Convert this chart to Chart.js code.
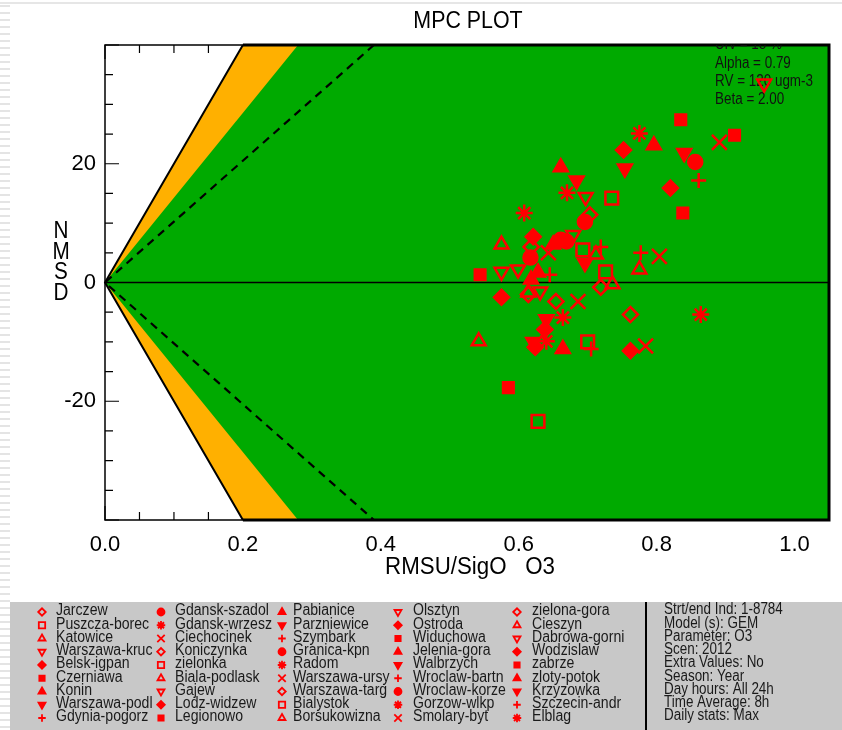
<!DOCTYPE html>
<html>
<head>
    <title>MPC PLOT</title>
    <script src="https://cdn.jsdelivr.net/npm/chart.js@4.4.1/dist/chart.umd.min.js"></script>
    <style>
        body {
            margin: 0;
            padding: 0;
            background-color: #ffffff;
        }
        #wrap {
            position: relative;
            width: 842px;
            height: 730px;
        }
        #edge {
            position: absolute;
            left: 0;
            top: 0;
            width: 10px;
            height: 730px;
            background: repeating-linear-gradient(to bottom, #ffffff 0px, #ffffff 5px, #e4e4e4 5px, #e4e4e4 7px);
        }
        #topline {
            position: absolute;
            left: 0;
            top: 2px;
            width: 842px;
            height: 2px;
            background-color: #e6e6e6;
        }
        canvas {
            position: absolute;
            left: 0;
            top: 0;
        }
    </style>
</head>
<body>
<div id="wrap">
    <div id="edge"></div>
    <div id="topline"></div>
    <canvas id="mpc" width="842" height="730"></canvas>
</div>

<script>
    // ---- data: [RMSU/SigO, NMSD] ----
    const openDiamondPts = [[0.703, 11.4], [0.618, 6.0], [0.719, -0.8], [0.614, -2.0], [0.654, -3.2], [0.762, -5.4]];
    const openSquarePts = [[0.735, 14.2], [0.693, 5.5], [0.726, 1.8], [0.700, -10.0], [0.628, -23.4]];
    const openTriUpPts = [[0.575, 6.4], [0.712, 4.7], [0.775, 2.2], [0.736, -0.3], [0.614, -1.7], [0.542, -9.9]];
    const openTriDownPts = [[0.956, 33.5], [0.697, 14.4], [0.679, 8.0], [0.575, 1.8], [0.599, 2.2], [0.631, -1.5]];
    const diamondPts = [[0.752, 22.3], [0.820, 15.9], [0.621, 7.7], [0.575, -2.5], [0.638, -7.9], [0.624, -10.9], [0.762, -11.5]];
    const squarePts = [[0.835, 27.4], [0.913, 24.8], [0.838, 11.7], [0.544, 1.3], [0.585, -17.7]];
    const triUpPts = [[0.796, 23.1], [0.661, 19.4], [0.650, 6.4], [0.628, 1.7], [0.618, 0.5], [0.664, -11.2]];
    const triDownPts = [[0.754, 19.2], [0.840, 21.8], [0.684, 17.2], [0.696, 3.3], [0.640, -6.2], [0.621, -10.0]];
    const plusPts = [[0.861, 17.2], [0.719, 6.0], [0.777, 5.0], [0.645, 1.3], [0.705, -11.2]];
    const circlePts = [[0.856, 20.3], [0.696, 10.2], [0.661, 7.2], [0.669, 6.9], [0.617, 4.2]];
    const asteriskPts = [[0.775, 25.1], [0.670, 15.1], [0.608, 11.7], [0.664, -5.9], [0.640, -9.9], [0.864, -5.4]];
    const crossPts = [[0.891, 23.6], [0.643, 5.0], [0.804, 4.4], [0.686, -3.2], [0.784, -10.7]];

    const stationNames = [
        'Jarczew', 'Puszcza-borec', 'Katowice', 'Warszawa-kruc', 'Belsk-igpan', 'Czerniawa', 'Konin', 'Warszawa-podl', 'Gdynia-pogorz',
        'Gdansk-szadol', 'Gdansk-wrzesz', 'Ciechocinek', 'Koniczynka', 'zielonka', 'Biala-podlask', 'Gajew', 'Lodz-widzew', 'Legionowo',
        'Pabianice', 'Parzniewice', 'Szymbark', 'Granica-kpn', 'Radom', 'Warszawa-ursy', 'Warszawa-targ', 'Bialystok', 'Borsukowizna',
        'Olsztyn', 'Ostroda', 'Widuchowa', 'Jelenia-gora', 'Walbrzych', 'Wroclaw-bartn', 'Wroclaw-korze', 'Gorzow-wlkp', 'Smolary-byt',
        'zielona-gora', 'Cieszyn', 'Dabrowa-gorni', 'Wodzislaw', 'zabrze', 'zloty-potok', 'Krzyzowka', 'Szczecin-andr', 'Elblag'
    ];
    const stationSymbols = [
        'openDiamond', 'openSquare', 'openTriUp', 'openTriDown', 'diamond', 'square', 'triUp', 'triDown', 'plus',
        'circle', 'asterisk', 'cross', 'openDiamond', 'openSquare', 'openTriUp', 'openTriDown', 'diamond', 'square',
        'triUp', 'triDown', 'plus', 'circle', 'asterisk', 'cross', 'openDiamond', 'openSquare', 'openTriUp',
        'openTriDown', 'diamond', 'square', 'triUp', 'triDown', 'plus', 'circle', 'asterisk', 'cross',
        'openDiamond', 'openTriUp', 'openTriDown', 'diamond', 'square', 'triUp', 'triDown', 'plus', 'asterisk'
    ];

    const infoLines = ['Strt/end Ind: 1-8784', 'Model (s): GEM', 'Parameter: O3', 'Scen: 2012', 'Extra Values: No',
        'Season: Year', 'Day hours: All 24h', 'Time Average: 8h', 'Daily stats: Max'];
    const paramLines = ['Urv = 18 %', 'Alpha = 0.79', 'RV = 120 ugm-3', 'Beta = 2.00'];

    const xTicks = [0, 0.2, 0.4, 0.6, 0.8, 1.0];
    const yTicks = [-20, 0, 20];

    // diagram boundaries (x reached at NMSD = +/-40)
    const xMax = 1.05, yMax = 40;
    const limitX = 0.2, orangeX = 0.28, dashedX = 0.39;

    const RED = '#ff0000';
    const GREEN = '#00aa00';
    const ORANGE = '#ffb000';
    const FONT = '"Liberation Sans", Arial, sans-serif';

    const symbolStyles = {
        openDiamond: { pointStyle: 'rectRot', rotation: 0, radius: 7.5, filled: false },
        openSquare: { pointStyle: 'rect', rotation: 0, radius: 9, filled: false },
        openTriUp: { pointStyle: 'triangle', rotation: 0, radius: 8, filled: false },
        openTriDown: { pointStyle: 'triangle', rotation: 180, radius: 8, filled: false },
        diamond: { pointStyle: 'rectRot', rotation: 0, radius: 7.5, filled: true },
        square: { pointStyle: 'rect', rotation: 0, radius: 7.5, filled: true },
        triUp: { pointStyle: 'triangle', rotation: 0, radius: 8, filled: true },
        triDown: { pointStyle: 'triangle', rotation: 180, radius: 8, filled: true },
        plus: { pointStyle: 'cross', rotation: 0, radius: 7.5, filled: false },
        circle: { pointStyle: 'circle', rotation: 0, radius: 7, filled: true },
        asterisk: { pointStyle: 'star', rotation: 0, radius: 8.5, filled: false },
        cross: { pointStyle: 'crossRot', rotation: 0, radius: 10.5, filled: false }
    };

    const groups = [
        ['openDiamond', openDiamondPts], ['openSquare', openSquarePts], ['openTriUp', openTriUpPts],
        ['openTriDown', openTriDownPts], ['diamond', diamondPts], ['square', squarePts],
        ['triUp', triUpPts], ['triDown', triDownPts], ['plus', plusPts],
        ['circle', circlePts], ['asterisk', asteriskPts], ['cross', crossPts]
    ];

    var datasets = groups.map(function (g) {
        var s = symbolStyles[g[0]];
        return {
            label: g[0],
            data: g[1].map(function (p) { return { x: p[0], y: p[1] }; }),
            pointStyle: s.pointStyle,
            rotation: s.rotation,
            pointRadius: s.radius,
            pointHoverRadius: s.radius,
            borderWidth: 2.5,
            borderColor: RED,
            backgroundColor: s.filled ? RED : 'rgba(0,0,0,0)'
        };
    });

    function drawMarker(ctx, key, x, y, scale) {
        var s = symbolStyles[key];
        ctx.fillStyle = s.filled ? RED : 'rgba(0,0,0,0)';
        ctx.strokeStyle = RED;
        ctx.lineWidth = 1.8;
        Chart.helpers.drawPoint(ctx, {
            pointStyle: s.pointStyle,
            rotation: s.rotation,
            radius: s.radius * scale,
            borderWidth: 1.8
        }, x, y);
    }

    // text squeezed horizontally, like the narrow plotting font of the original
    function narrowText(ctx, text, x, y, k) {
        ctx.save();
        ctx.translate(x, y);
        ctx.scale(k, 1);
        ctx.fillText(text, 0, 0);
        ctx.restore();
    }

    const mpcPlugin = {
        id: 'mpc',
        beforeDatasetsDraw(chart) {
            const ctx = chart.ctx, a = chart.chartArea;
            const sx = chart.scales.x, sy = chart.scales.y;
            const px = v => sx.getPixelForValue(v);
            const py = v => sy.getPixelForValue(v);
            ctx.save();

            // tick marks, inward
            ctx.strokeStyle = '#000';
            ctx.lineWidth = 1.2;
            ctx.beginPath();
            for (var i = 0; i <= 21; i++) {
                var v = i * 0.05;
                var len = (i % 4 === 0) ? 14 : 8;
                ctx.moveTo(px(v), a.bottom); ctx.lineTo(px(v), a.bottom - len);
                ctx.moveTo(px(v), a.top); ctx.lineTo(px(v), a.top + len);
            }
            for (var j = -40; j <= 40; j += 5) {
                var l2 = (j % 20 === 0) ? 14 : 8;
                ctx.moveTo(a.left, py(j)); ctx.lineTo(a.left + l2, py(j));
                ctx.moveTo(a.right, py(j)); ctx.lineTo(a.right - l2, py(j));
            }
            ctx.stroke();

            function poly(pts, color) {
                ctx.beginPath();
                pts.forEach(function (p, k) {
                    if (k === 0) ctx.moveTo(px(p[0]), py(p[1]));
                    else ctx.lineTo(px(p[0]), py(p[1]));
                });
                ctx.closePath();
                ctx.fillStyle = color;
                ctx.fill();
            }
            poly([[0, 0], [limitX, yMax], [xMax, yMax], [xMax, -yMax], [limitX, -yMax]], ORANGE);
            poly([[0, 0], [orangeX, yMax], [xMax, yMax], [xMax, -yMax], [orangeX, -yMax]], GREEN);

            // zero line
            ctx.strokeStyle = '#000';
            ctx.lineWidth = 1.5;
            ctx.beginPath();
            ctx.moveTo(px(0), py(0)); ctx.lineTo(px(xMax), py(0));
            ctx.stroke();

            // limit lines
            ctx.lineWidth = 2;
            ctx.beginPath();
            ctx.moveTo(px(limitX), py(yMax)); ctx.lineTo(px(0), py(0)); ctx.lineTo(px(limitX), py(-yMax));
            ctx.stroke();
            ctx.setLineDash([8, 6]);
            ctx.lineWidth = 2.2;
            ctx.beginPath();
            ctx.moveTo(px(dashedX), py(yMax)); ctx.lineTo(px(0), py(0)); ctx.lineTo(px(dashedX), py(-yMax));
            ctx.stroke();
            ctx.setLineDash([]);

            // frame
            ctx.lineWidth = 1.5;
            ctx.strokeRect(a.left, a.top, a.right - a.left, a.bottom - a.top);
            ctx.lineWidth = 3;
            ctx.beginPath();
            ctx.moveTo(px(limitX), a.top); ctx.lineTo(a.right, a.top); ctx.lineTo(a.right, a.bottom); ctx.lineTo(px(limitX), a.bottom);
            ctx.stroke();

            // parameter text, clipped to plot area
            ctx.save();
            ctx.beginPath();
            ctx.rect(a.left, a.top, a.right - a.left, a.bottom - a.top);
            ctx.clip();
            ctx.fillStyle = '#111';
            ctx.font = '16px ' + FONT;
            ctx.textBaseline = 'middle';
            ctx.textAlign = 'left';
            paramLines.forEach(function (t, k) {
                narrowText(ctx, t, 715, 45 + k * 18.3, 0.84);
            });
            ctx.restore();

            ctx.restore();
        },
        afterDraw(chart) {
            const ctx = chart.ctx;
            ctx.save();
            ctx.fillStyle = '#000';
            ctx.textBaseline = 'middle';
            ctx.textAlign = 'center';

            // title and axis titles
            ctx.font = '23px ' + FONT;
            narrowText(ctx, 'MPC PLOT', 468, 22, 0.93);
            narrowText(ctx, 'RMSU/SigO   O3', 470, 568, 0.97);
            ['N', 'M', 'S', 'D'].forEach(function (c, k) {
                narrowText(ctx, c, 61, 232 + k * 20.5, 0.9);
            });

            // legend box
            ctx.fillStyle = '#c8c8c8';
            ctx.fillRect(10, 602, 832, 128);
            ctx.strokeStyle = '#000';
            ctx.lineWidth = 2;
            ctx.beginPath();
            ctx.moveTo(646, 602); ctx.lineTo(646, 730);
            ctx.stroke();

            var markerX = [42, 161, 282, 398, 517];
            var textX = [56, 175, 293, 413, 532];
            ctx.font = '16px ' + FONT;
            ctx.textAlign = 'left';
            stationNames.forEach(function (name, k) {
                var col = Math.floor(k / 9), row = k % 9;
                var yy = 611 + row * 13.25;
                drawMarker(ctx, stationSymbols[k], markerX[col], yy + 1, 0.5);
                ctx.fillStyle = '#1a1a1a';
                narrowText(ctx, name, textX[col], yy, 0.88);
            });
            infoLines.forEach(function (t, k) {
                ctx.fillStyle = '#1a1a1a';
                narrowText(ctx, t, 664, 610 + k * 13.25, 0.84);
            });
            ctx.restore();
        }
    };

    var chart = new Chart(document.getElementById('mpc').getContext('2d'), {
        type: 'scatter',
        data: { datasets: datasets },
        options: {
            responsive: false,
            devicePixelRatio: 1,
            animation: false,
            layout: { padding: { left: 0, top: 45, right: 10, bottom: 0 } },
            plugins: {
                legend: { display: false },
                tooltip: { enabled: false },
                title: { display: false }
            },
            scales: {
                x: {
                    type: 'linear',
                    min: 0,
                    max: xMax,
                    grid: { display: false, drawTicks: false },
                    border: { display: false },
                    afterFit: function (s) { s.height = 210; },
                    afterBuildTicks: function (s) { s.ticks = xTicks.map(function (v) { return { value: v }; }); },
                    ticks: {
                        color: '#000',
                        font: { size: 22, family: FONT },
                        padding: 12,
                        maxRotation: 0,
                        autoSkip: false,
                        callback: function (v) { return Number(v).toFixed(1); }
                    }
                },
                y: {
                    type: 'linear',
                    min: -yMax,
                    max: yMax,
                    grid: { display: false, drawTicks: false },
                    border: { display: false },
                    afterFit: function (s) { s.width = 105; },
                    afterBuildTicks: function (s) { s.ticks = yTicks.map(function (v) { return { value: v }; }); },
                    ticks: {
                        color: '#000',
                        font: { size: 22, family: FONT },
                        padding: 9,
                        autoSkip: false,
                        callback: function (v) { return String(v); }
                    }
                }
            }
        },
        plugins: [mpcPlugin]
    });
</script>
</body>
</html>
